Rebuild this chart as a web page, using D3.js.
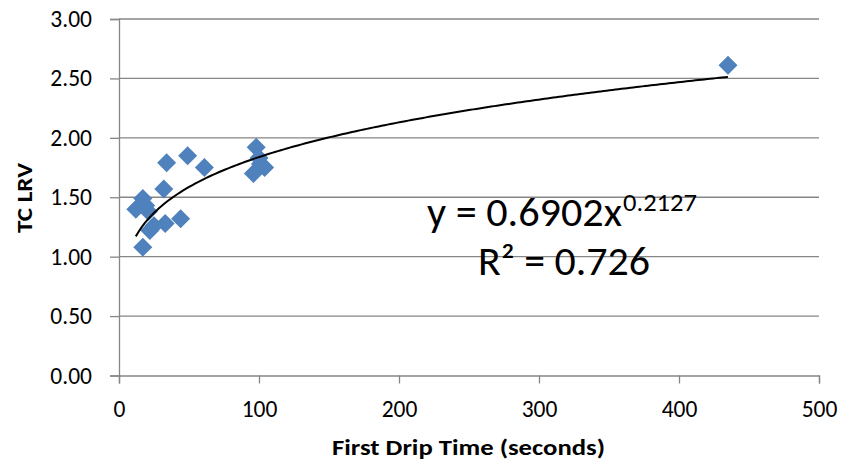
<!DOCTYPE html>
<html><head><meta charset="utf-8">
<script src="https://cdn.jsdelivr.net/npm/d3@7"></script>
<style>body{margin:0;background:#fff;} svg{display:block;font-family:Carlito,Lato,"Open Sans",sans-serif;}</style>
</head><body>
<svg id="c" width="841" height="462"></svg>
<script>
const firstDripTime = [12, 17, 19, 21, 22, 25, 33, 44, 17, 32, 34, 49, 61, 96, 98, 100, 101, 104, 435];
const tcLRV = [1.40, 1.49, 1.43, 1.38, 1.22, 1.26, 1.28, 1.32, 1.08, 1.57, 1.79, 1.85, 1.75, 1.70, 1.92, 1.83, 1.78, 1.75, 2.61];
const xTicks = [0, 100, 200, 300, 400, 500];
const yTicks = [0, 0.5, 1, 1.5, 2, 2.5, 3];
const trendA = 0.6902, trendB = 0.2127;
const eqText = "y = 0.6902x", eqExp = "0.2127", r2Text = "R² = 0.726";

const svg = d3.select("#c");
const x = d3.scaleLinear().domain([0, 500]).range([119, 819]);
const y = d3.scaleLinear().domain([0, 3]).range([375.5, 19]);
const gray = "#868686";

// gridlines
svg.append("g").selectAll("line").data(yTicks.filter(d => d > 0)).join("line")
  .attr("x1", x(0)).attr("x2", x(500)).attr("y1", d => y(d)).attr("y2", d => y(d))
  .attr("stroke", gray).attr("stroke-width", 1.3);

// y axis
const ya = svg.append("g").attr("transform", `translate(${x(0)},0)`)
  .call(d3.axisLeft(y).tickValues(yTicks).tickFormat(d3.format(".2f")).tickSize(9).tickPadding(18));
// x axis
const xa = svg.append("g").attr("transform", `translate(0,${y(0)})`)
  .call(d3.axisBottom(x).tickValues(xTicks).tickFormat(d3.format("d")).tickSize(8).tickPadding(17));
[ya, xa].forEach(a => {
  a.select(".domain").attr("stroke", gray).attr("stroke-width", 1.3);
  a.selectAll(".tick line").attr("stroke", gray).attr("stroke-width", 1.3);
  a.selectAll("text").attr("fill", "#000").style("font-size", "23.5px").style("font-family", "Carlito,Lato,sans-serif");
});

// points
const pts = firstDripTime.map((d, i) => [d, tcLRV[i]]);
const r = 9.5;
svg.append("g").selectAll("path").data(pts).join("path")
  .attr("d", d => { const cx = x(d[0]), cy = y(d[1]);
    return `M${cx},${cy - r}L${cx + r},${cy}L${cx},${cy + r}L${cx - r},${cy}Z`; })
  .attr("fill", "#4F81BD");

// trendline
const xmin = d3.min(firstDripTime), xmax = d3.max(firstDripTime);
const tl = d3.range(0, 201).map(i => { const xv = xmin + (xmax - xmin) * i / 200; return [xv, trendA * Math.pow(xv, trendB)]; });
svg.append("path").datum(tl)
  .attr("d", d3.line().x(d => x(d[0])).y(d => y(d[1])))
  .attr("fill", "none").attr("stroke", "#000").attr("stroke-width", 2);

// equation
svg.append("text").attr("x", 427).attr("y", 226).text(eqText)
  .style("font-size", "40px").attr("textLength", 195).attr("lengthAdjust", "spacingAndGlyphs");
svg.append("text").attr("x", 623).attr("y", 211).text(eqExp)
  .style("font-size", "24px").attr("textLength", 74).attr("lengthAdjust", "spacingAndGlyphs");
svg.append("text").attr("x", 478).attr("y", 275).text(r2Text)
  .style("font-size", "40px").attr("textLength", 172).attr("lengthAdjust", "spacingAndGlyphs");

// axis titles
svg.append("text").attr("transform", "translate(32,198) rotate(-90)").attr("text-anchor", "middle")
  .style("font-size", "22px").style("font-weight", "bold")
  .attr("textLength", 70).attr("lengthAdjust", "spacingAndGlyphs").text("TC LRV");
svg.append("text").attr("x", 468.5).attr("y", 455).attr("text-anchor", "middle")
  .style("font-size", "22px").style("font-weight", "bold")
  .attr("textLength", 273).attr("lengthAdjust", "spacingAndGlyphs").text("First Drip Time (seconds)");
</script>
</body></html>
